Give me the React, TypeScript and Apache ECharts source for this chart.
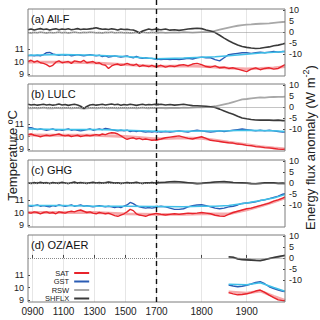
import React, { useEffect, useRef } from 'react';
import * as echarts from 'echarts';

// ---------------- data ----------------
const YEARS = [
  870, 890, 910, 930, 950, 970, 990, 1010, 1030, 1050,
  1070, 1090, 1110, 1130, 1150, 1170, 1190, 1210, 1230, 1250,
  1270, 1290, 1310, 1330, 1350, 1370, 1390, 1410, 1430, 1450,
  1470, 1490, 1510, 1530, 1550, 1570, 1590, 1610, 1630, 1650,
  1670, 1690,
  1700, 1710, 1720, 1730, 1740, 1750, 1760, 1770, 1780, 1790,
  1800, 1810, 1820, 1830, 1840, 1850, 1860, 1870, 1880, 1890,
  1900, 1910, 1920, 1930, 1940, 1950, 1960, 1970, 1980, 1985,
];
const SMOOTH_YEARS = [870, 1100, 1300, 1500, 1700, 1760, 1800, 1830, 1860, 1900, 1930, 1960, 1985];
const YEARS_D = [1860, 1870, 1880, 1890, 1900, 1910, 1920, 1930, 1940, 1950, 1960, 1970, 1980, 1985];
const SMOOTH_YEARS_D = [1860, 1900, 1930, 1960, 1985];

// (a) All-F
const SAT_A = [
  10.0, 10.1, 9.95, 10.05, 9.9, 9.85, 9.75, 9.6, 9.7, 9.95,
  10.05, 9.9, 9.95, 10.0, 9.85, 10.05, 10.0, 9.95, 10.1, 9.9,
  9.95, 10.0, 9.85, 9.9, 9.75, 9.7, 9.45, 9.65, 9.75, 9.8,
  9.7, 9.75, 9.85, 9.75, 9.7, 9.8, 9.6, 9.7, 9.65, 9.6,
  9.7, 9.6,
  9.6, 9.7, 9.55, 9.65, 9.6, 9.7, 9.75, 9.65, 9.8, 9.85,
  9.75, 9.6, 9.55, 9.65, 9.5, 9.55, 9.45, 9.5, 9.4, 9.3,
  9.2, 9.4, 9.5, 9.35, 9.45, 9.5, 9.4, 9.45, 9.65, 9.75,
];
const GST_A = [
  10.45, 10.5, 10.45, 10.5, 10.45, 10.55, 10.7, 10.72, 10.6, 10.55,
  10.5, 10.55, 10.5, 10.55, 10.45, 10.5, 10.55, 10.5, 10.45, 10.5,
  10.55, 10.5, 10.45, 10.5, 10.4, 10.45, 10.35, 10.4, 10.45, 10.4,
  10.35, 10.4, 10.45, 10.35, 10.3, 10.4, 10.3, 10.25, 10.3, 10.25,
  10.25, 10.2,
  10.2, 10.15, 10.2, 10.15, 10.2, 10.15, 10.2, 10.25, 10.2, 10.3,
  10.35, 10.3, 10.3, 10.15, 10.05, 10.3, 10.55, 10.6, 10.65, 10.7,
  10.7, 10.65, 10.7, 10.75, 10.7, 10.75, 10.8, 10.75, 10.8, 10.8,
];
const RSW_A = [
  -0.3, -0.5, -0.2, -0.4, -0.1, -0.3, -0.5, -0.2, -0.4, -0.3,
  -0.1, -0.4, -0.2, -0.5, -0.3, -0.1, -0.3, -0.4, -0.2, -0.3,
  -0.1, -0.2, -0.4, -0.3, -0.5, -0.2, -0.3, -0.1, -0.4, -0.3,
  -0.2, -0.4, -0.3, -0.5, -0.4, -0.2, -0.3, -0.1, -0.3, -0.4,
  -0.2, -0.3,
  -0.3, -0.2, -0.4, -0.3, -0.2, -0.3, -0.1, -0.2, -0.3, -0.2,
  -0.1, -0.1, 0.0, 0.5, 1.0, 1.5, 2.0, 2.4, 2.8, 3.1,
  3.3, 3.4, 3.6, 3.7, 3.8, 3.9, 4.1, 4.3, 4.5, 4.6,
];
const SHFLX_A = [
  1.0, 1.3, 0.9, 1.2, 1.5, 1.1, 1.3, 0.9, 1.2, 1.4,
  1.0, 1.3, 1.1, 1.4, 1.0, 1.2, 1.5, 1.1, 1.3, 1.2,
  1.4, 1.6, 1.9, 1.5, 1.2, 1.3, 1.1, 1.4, 1.2, 0.9,
  1.3, 1.1, 1.2, 1.0, 0.9, 0.3, -0.5, 0.4, 0.9, 1.3,
  1.0, 1.2,
  1.2, 1.0, 1.3, 0.8, 1.0, 0.7, 1.0, 1.3, 1.5, 1.7,
  1.5, 0.9, 0.4, -0.3, -1.5, -2.8, -4.0, -5.0, -5.9, -6.6,
  -7.0, -7.3, -7.5, -7.4, -7.1, -6.8, -6.3, -6.0, -5.5, -5.2,
];
const SAT_SMOOTH_A = [9.95, 9.95, 9.9, 9.75, 9.62, 9.65, 9.62, 9.55, 9.48, 9.42, 9.45, 9.5, 9.6];
const GST_SMOOTH_A = [10.5, 10.55, 10.5, 10.4, 10.22, 10.27, 10.33, 10.38, 10.45, 10.58, 10.67, 10.73, 10.8];

// (b) LULC
const SAT_B = [
  10.15, 10.2, 10.1, 10.05, 9.98, 10.05, 10.1, 10.05, 10.1, 10.15,
  10.2, 10.1, 10.05, 10.1, 10.0, 10.05, 10.1, 10.0, 10.05, 10.1,
  10.05, 10.1, 10.15, 10.1, 10.2, 10.15, 10.25, 10.3, 10.28, 10.2,
  10.05, 9.9, 9.78, 9.85, 9.9, 9.8, 9.85, 9.75, 9.8, 9.75,
  9.7, 9.72,
  9.72, 9.8, 9.9, 9.95, 10.0, 10.05, 9.95, 9.85, 9.8, 9.9,
  9.98, 9.85, 9.7, 9.65, 9.6, 9.55, 9.5, 9.48, 9.4, 9.38,
  9.3, 9.28, 9.2, 9.18, 9.12, 9.1, 9.05, 9.0, 8.98, 9.0,
];
const GST_B = [
  10.7, 10.7, 10.62, 10.55, 10.6, 10.55, 10.5, 10.55, 10.6, 10.5,
  10.55, 10.5, 10.55, 10.6, 10.5, 10.55, 10.5, 10.45, 10.5, 10.55,
  10.6, 10.5, 10.55, 10.6, 10.55, 10.65, 10.6, 10.55, 10.5, 10.45,
  10.5, 10.45, 10.5, 10.4, 10.45, 10.4, 10.45, 10.4, 10.35, 10.4,
  10.35, 10.4,
  10.4, 10.35, 10.4, 10.35, 10.4, 10.45, 10.4, 10.35, 10.45, 10.5,
  10.45, 10.4, 10.35, 10.4, 10.45, 10.4, 10.45, 10.5, 10.55, 10.6,
  10.55, 10.5, 10.45, 10.5, 10.45, 10.5, 10.45, 10.4, 10.35, 10.35,
];
const RSW_B = [
  -0.5, -0.7, -0.4, -0.6, -0.5, -0.3, -0.6, -0.5, -0.7, -0.4,
  -0.5, -0.6, -0.4, -0.5, -0.7, -0.5, -0.4, -0.6, -0.8, -0.6,
  -0.5, -0.4, -0.6, -0.5, -0.3, -0.5, -0.6, -0.4, -0.5, -0.7,
  -0.5, -0.4, -0.6, -0.5, -0.4, -0.6, -0.5, -0.3, -0.5, -0.6,
  -0.4, -0.5,
  -0.5, -0.4, -0.6, -0.5, -0.4, -0.5, -0.3, -0.4, -0.3, -0.2,
  -0.2, -0.1, 0.0, 0.3, 0.7, 1.2, 1.6, 2.2, 2.8, 3.4,
  3.6, 3.9, 4.1, 4.3, 4.2, 4.4, 4.5, 4.6, 4.6, 4.7,
];
const SHFLX_B = [
  1.2, 0.9, 1.1, 0.8, 1.0, 1.2, 0.9, 1.1, 0.8, 1.0,
  1.3, 0.9, 1.1, 0.7, 1.0, 1.2, 0.9, 0.3, -0.7, 0.2,
  0.9, 1.1, 0.8, 1.0, 1.2, 0.9, 1.1, 1.3, 1.0, 1.2,
  0.8, 1.1, 0.9, 1.2, 1.0, 0.7, 1.0, 1.2, 0.9, 1.1,
  1.0, 1.2,
  1.0, 1.2, 0.9, 1.1, 0.8, 1.0, 1.2, 0.9, 0.6, 0.5,
  0.4, 0.3, 0.1, -0.3, -1.0, -1.8, -2.6, -3.3, -4.2, -5.0,
  -5.4, -5.7, -5.9, -6.0, -5.9, -6.0, -6.1, -6.0, -6.2, -6.3,
];
const SAT_SMOOTH_B = [10.12, 10.1, 10.1, 10.0, 9.82, 9.9, 9.85, 9.72, 9.55, 9.35, 9.2, 9.1, 9.02];
const GST_SMOOTH_B = [10.6, 10.55, 10.55, 10.5, 10.42, 10.42, 10.44, 10.44, 10.46, 10.5, 10.48, 10.45, 10.4];

// (c) GHG
const SAT_C = [
  10.0, 9.95, 10.05, 10.0, 9.9, 10.0, 10.05, 9.95, 10.0, 9.9,
  10.05, 10.0, 9.95, 10.05, 10.1, 10.05, 10.15, 10.2, 10.1, 10.0,
  10.05, 9.95, 9.9, 10.0, 9.95, 9.9, 9.95, 9.85, 9.75, 9.7,
  9.8, 9.9, 10.05, 10.25, 10.15, 9.9, 9.8, 9.75, 9.7, 9.8,
  9.85, 9.9,
  9.92, 9.85, 9.8, 9.85, 9.9, 9.85, 9.9, 9.95, 9.92, 9.95,
  10.0, 9.95, 9.9, 9.78, 9.72, 9.7, 9.85, 10.0, 10.1, 10.2,
  10.3, 10.35, 10.45, 10.55, 10.65, 10.75, 10.9, 11.0, 11.15, 11.25,
];
const GST_C = [
  10.55, 10.5, 10.55, 10.6, 10.5, 10.55, 10.5, 10.45, 10.55, 10.5,
  10.6, 10.55, 10.5, 10.55, 10.6, 10.5, 10.55, 10.6, 10.5, 10.55,
  10.5, 10.45, 10.5, 10.55, 10.5, 10.45, 10.5, 10.45, 10.4, 10.45,
  10.4, 10.5, 10.6, 10.8, 10.7, 10.55, 10.45, 10.4, 10.35, 10.4,
  10.35, 10.4,
  10.45, 10.5, 10.45, 10.35, 10.25, 10.25, 10.3, 10.45, 10.55, 10.6,
  10.62, 10.55, 10.45, 10.35, 10.3, 10.35, 10.45, 10.5, 10.6, 10.72,
  10.75, 10.8, 10.85, 10.95, 11.0, 11.1, 11.2, 11.3, 11.45, 11.5,
];
const RSW_C = [
  -0.1, 0.0, -0.2, 0.1, -0.1, 0.0, 0.1, -0.2, 0.0, -0.1,
  0.1, 0.0, -0.1, -0.2, 0.0, 0.1, 0.0, -0.1, 0.1, 0.0,
  -0.1, 0.1, 0.0, -0.2, 0.0, 0.1, 0.2, 0.0, -0.1, 0.0,
  -0.2, -0.1, 0.1, 0.0, -0.1, 0.1, 0.0, -0.2, 0.0, -0.1,
  0.1, 0.0,
  0.0, 0.1, 0.2, 0.3, 0.4, 0.3, 0.2, 0.0, -0.1, -0.2,
  -0.1, 0.0, 0.1, 0.3, 0.4, 0.4, 0.3, 0.1, 0.0, -0.1,
  -0.1, -0.2, -0.3, -0.2, -0.1, 0.0, -0.1, -0.2, -0.2, -0.3,
];
const SHFLX_C = [
  0.0, -0.3, 0.2, -0.2, 0.3, -0.1, 0.1, -0.3, 0.2, 0.0,
  -0.2, 0.3, 0.0, -0.3, 0.1, 0.4, -0.1, 0.2, 0.0, -0.2,
  0.1, 0.3, 0.0, 0.2, -0.1, 0.1, 0.4, 0.2, -0.1, 0.1,
  -0.2, 0.0, 0.2, -0.1, 0.1, 0.3, 0.0, -0.2, 0.1, 0.0,
  0.2, -0.1,
  0.0, 0.2, 0.3, 0.5, 0.6, 0.5, 0.3, 0.1, -0.1, -0.3,
  -0.2, 0.0, 0.2, 0.4, 0.5, 0.6, 0.4, 0.2, 0.1, 0.0,
  -0.1, -0.3, -0.4, -0.2, 0.0, 0.1, 0.0, -0.2, -0.1, -0.2,
];
const SAT_SMOOTH_C = [10.0, 10.0, 10.0, 9.9, 9.85, 9.85, 9.9, 9.9, 9.9, 10.2, 10.5, 10.85, 11.15];
const GST_SMOOTH_C = [10.55, 10.55, 10.5, 10.5, 10.47, 10.45, 10.5, 10.5, 10.55, 10.75, 10.95, 11.15, 11.42];

// (d) OZ/AER
const SAT_D = [9.6, 9.5, 9.42, 9.45, 9.5, 9.6, 9.72, 9.8, 9.62, 9.4, 9.2, 9.02, 8.96, 8.95];
const GST_D = [10.2, 10.12, 10.06, 10.1, 10.18, 10.28, 10.4, 10.46, 10.3, 10.06, 9.92, 9.8, 9.7, 9.67];
const RSW_D = [0.3, 0.2, -0.2, -0.5, -0.6, -0.8, -0.9, -1.0, -0.7, -0.3, 0.1, 0.4, 0.8, 1.0];
const SHFLX_D = [0.5, 0.3, -0.5, -0.8, -0.9, -1.0, -1.2, -1.3, -0.8, -0.3, 0.2, 0.6, 1.0, 1.2];
const SAT_SMOOTH_D = [9.65, 9.55, 9.72, 9.3, 8.98];
const GST_SMOOTH_D = [10.25, 10.22, 10.38, 10.0, 9.7];

const PANEL_LABELS = ['(a) All-F', '(b) LULC', '(c) GHG', '(d) OZ/AER'];
const X_TICKS_EARLY = [900, 1100, 1300, 1500, 1700];
const X_TICKS_LATE = [1800, 1900];
const T_TICKS = [9, 10, 11];
const F_TICKS = [10, 5, 0, -5, -10];
const LEGEND_NAMES = ['SAT', 'GST', 'RSW', 'SHFLX'];

// ---------------- layout / style ----------------
const X_START = 870;
const X_BREAK = 1700;
const X_END = 1985;
const T_MIN = 8.85;
const T_MAX = 14.17;
const F_MIN = -20;
const F_MAX = 10.4;
const PANEL_TOPS = [9, 84, 160, 235];
const PANEL_H = 67;
const PLOT_LEFT = 28;
const PLOT_MID = 156.5;
const PLOT_RIGHT = 285;
const FONT = 'Liberation Sans, Arial, sans-serif';

const C_SAT = '#e8232b';
const C_SAT_S = '#f6a9ab';
const C_GST = '#2b5cb4';
const C_GST_S = '#3fbfe8';
const C_RSW = '#a8a8a8';
const C_SHFLX = '#3a3a3a';

const PANELS = [
  { sat: SAT_A, gst: GST_A, rsw: RSW_A, shflx: SHFLX_A, satS: SAT_SMOOTH_A, gstS: GST_SMOOTH_A, years: YEARS, sYears: SMOOTH_YEARS },
  { sat: SAT_B, gst: GST_B, rsw: RSW_B, shflx: SHFLX_B, satS: SAT_SMOOTH_B, gstS: GST_SMOOTH_B, years: YEARS, sYears: SMOOTH_YEARS },
  { sat: SAT_C, gst: GST_C, rsw: RSW_C, shflx: SHFLX_C, satS: SAT_SMOOTH_C, gstS: GST_SMOOTH_C, years: YEARS, sYears: SMOOTH_YEARS },
  { sat: SAT_D, gst: GST_D, rsw: RSW_D, shflx: SHFLX_D, satS: SAT_SMOOTH_D, gstS: GST_SMOOTH_D, years: YEARS_D, sYears: SMOOTH_YEARS_D },
];

const pairs = (xs: number[], ys: number[]) => xs.map((x, i) => [x, ys[i]]);
const fmtYear = (v: number) => String(Math.round(v)).padStart(4, '0');

function buildOption() {
  const grid: any[] = [];
  const xAxis: any[] = [];
  const yAxis: any[] = [];
  const series: any[] = [];

  PANELS.forEach((p, pi) => {
    const top = PANEL_TOPS[pi];
    const isBottom = pi === PANELS.length - 1;
    [0, 1].forEach((side) => {
      const g = pi * 2 + side;
      const left = side === 0 ? PLOT_LEFT : PLOT_MID;
      const right = side === 0 ? PLOT_MID : PLOT_RIGHT;
      grid.push({ left, top, width: right - left, height: PANEL_H });
      const ticks = side === 0 ? X_TICKS_EARLY : X_TICKS_LATE;
      xAxis.push({
        type: 'value',
        gridIndex: g,
        min: side === 0 ? X_START : X_BREAK,
        max: side === 0 ? X_BREAK : X_END,
        axisLine: { show: false },
        axisTick: { show: isBottom, inside: true, length: 3, customValues: ticks, lineStyle: { color: '#444' } },
        axisLabel: { show: isBottom, customValues: ticks, formatter: fmtYear, fontSize: 10, color: '#222', margin: 4, fontFamily: FONT },
        splitLine: { show: true, lineStyle: { color: '#e6e6e6', width: 1 } },
      });
      yAxis.push({
        type: 'value',
        gridIndex: g,
        position: 'left',
        min: T_MIN,
        max: T_MAX,
        show: side === 0,
        axisLine: { show: false },
        axisTick: { show: true, inside: true, length: 2, customValues: T_TICKS, lineStyle: { color: '#444' } },
        axisLabel: { customValues: T_TICKS, fontSize: 9, color: '#222', margin: 4, fontFamily: FONT },
        splitLine: { show: false },
      });
      yAxis.push({
        type: 'value',
        gridIndex: g,
        position: 'right',
        min: F_MIN,
        max: F_MAX,
        show: side === 1,
        axisLine: { show: false },
        axisTick: { show: true, inside: true, length: 2, customValues: F_TICKS, lineStyle: { color: '#444' } },
        axisLabel: { customValues: F_TICKS, fontSize: 9, color: '#222', margin: 4, fontFamily: FONT },
        splitLine: { show: false },
      });
      const base = { type: 'line', xAxisIndex: g, symbol: 'none', showSymbol: false, silent: true, emphasis: { disabled: true }, clip: true };
      const tY = g * 2;
      const fY = g * 2 + 1;
      series.push(
        { ...base, name: 'RSW', yAxisIndex: fY, data: pairs(p.years, p.rsw), color: C_RSW, lineStyle: { width: 1.8, color: C_RSW } },
        {
          ...base, name: 'SHFLX', yAxisIndex: fY, data: pairs(p.years, p.shflx), color: C_SHFLX, lineStyle: { width: 1.6, color: C_SHFLX },
          markLine: { silent: true, symbol: 'none', label: { show: false }, lineStyle: { type: 'dotted', color: '#888', width: 1 }, data: [{ yAxis: 0 }] },
        },
        { ...base, name: 'SAT trend', yAxisIndex: tY, data: pairs(p.sYears, p.satS), color: C_SAT_S, lineStyle: { width: 2.8, color: C_SAT_S } },
        { ...base, name: 'SAT', yAxisIndex: tY, data: pairs(p.years, p.sat), color: C_SAT, lineStyle: { width: 1.4, color: C_SAT } },
        { ...base, name: 'GST', yAxisIndex: tY, data: pairs(p.years, p.gst), color: C_GST, lineStyle: { width: 1.4, color: C_GST } },
        { ...base, name: 'GST trend', yAxisIndex: tY, data: pairs(p.sYears, p.gstS), color: C_GST_S, lineStyle: { width: 1.5, color: C_GST_S } },
      );
    });
  });

  return {
    animation: false,
    textStyle: { fontFamily: FONT },
    grid,
    xAxis,
    yAxis,
    series,
    legend: {
      data: LEGEND_NAMES,
      orient: 'vertical',
      align: 'right',
      left: 45,
      top: 269,
      icon: 'rect',
      itemWidth: 15,
      itemHeight: 2,
      itemGap: 0.5,
      selectedMode: false,
      padding: 0,
      textStyle: { fontSize: 7.5, color: '#222', fontFamily: FONT },
    },
  };
}

export default function App() {
  const ref = useRef<HTMLDivElement>(null);
  useEffect(() => {
    if (!ref.current) return;
    const chart = echarts.init(ref.current, undefined, { renderer: 'svg' });
    chart.setOption(buildOption());

    const xL = chart.convertToPixel({ xAxisIndex: 0 }, X_START) as number;
    const xM = chart.convertToPixel({ xAxisIndex: 0 }, X_BREAK) as number;
    const xR = chart.convertToPixel({ xAxisIndex: 1 }, X_END) as number;
    const elements: any[] = [];
    let lastBottom = 0;
    let firstTop = 0;
    PANELS.forEach((_, pi) => {
      const yTop = chart.convertToPixel({ yAxisIndex: pi * 4 }, T_MAX) as number;
      const yBot = chart.convertToPixel({ yAxisIndex: pi * 4 }, T_MIN) as number;
      if (pi === 0) firstTop = yTop;
      lastBottom = yBot;
      elements.push({
        type: 'rect',
        shape: { x: xL, y: yTop, width: xR - xL, height: yBot - yTop },
        style: { fill: 'none', stroke: '#7d7d7d', lineWidth: 1 },
        silent: true,
        z: 10,
      });
      elements.push({
        type: 'text',
        x: xL + 3,
        y: yTop + 4,
        style: { text: PANEL_LABELS[pi], fontSize: 11, fill: '#111', fontFamily: FONT, align: 'left', verticalAlign: 'top' },
        silent: true,
        z: 11,
      });
    });
    elements.push({
      type: 'line',
      shape: { x1: xM, y1: 0, x2: xM, y2: lastBottom + 4 },
      style: { stroke: '#111', lineWidth: 1.4, lineDash: [5, 4] },
      silent: true,
      z: 12,
    });
    const midY = (firstTop + lastBottom) / 2;
    elements.push({
      type: 'text',
      x: 12,
      y: midY,
      rotation: Math.PI / 2,
      style: { text: 'Temperature ºC', fontSize: 13, fill: '#222', fontFamily: FONT, align: 'center', verticalAlign: 'middle' },
      silent: true,
    });
    elements.push({
      type: 'text',
      x: 309,
      y: midY - 8,
      rotation: Math.PI / 2,
      style: {
        text: '{n|Energy flux anomaly (W m}{s|-2}{n|)}',
        fontFamily: FONT,
        align: 'center',
        verticalAlign: 'middle',
        rich: {
          n: { fontSize: 13, fill: '#222', fontFamily: FONT, lineHeight: 16, verticalAlign: 'bottom' },
          s: { fontSize: 9, fill: '#222', fontFamily: FONT, lineHeight: 16, verticalAlign: 'top' },
        },
      },
      silent: true,
    });
    chart.setOption({ graphic: { elements } });

    return () => chart.dispose();
  }, []);
  return <div ref={ref} style={{ position: 'fixed', left: 0, top: 0, width: 320, height: 320, background: '#fff' }} />;
}
